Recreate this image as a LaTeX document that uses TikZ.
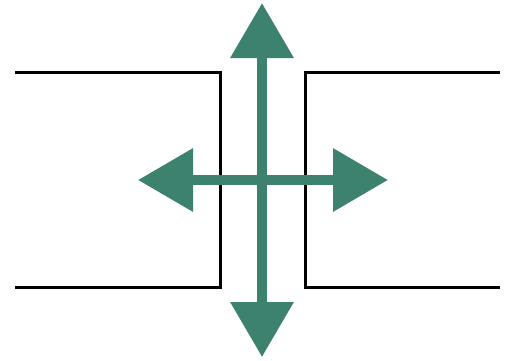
\documentclass[tikz,border=0pt]{standalone}
\usetikzlibrary{arrows.meta}
\definecolor{arrowgreen}{RGB}{61,129,111}
\begin{document}
\begin{tikzpicture}[x=1pt,y=-1pt,
  wall/.style={line width=3pt,black,line join=miter},
  bigarrow/.style={line width=10pt,arrowgreen,{Triangle[length=55pt,width=61pt]}-{Triangle[length=55pt,width=61pt]}}]
\useasboundingbox (0,0) rectangle (507,360);
\coordinate (L1) at (15,72);
\coordinate (L2) at (220,72);
\coordinate (L3) at (220,287);
\coordinate (L4) at (15,287);
\coordinate (R1) at (500,72);
\coordinate (R2) at (305,72);
\coordinate (R3) at (305,287);
\coordinate (R4) at (500,287);
\coordinate (top) at (262,3);
\coordinate (bot) at (262,357);
\coordinate (lft) at (138,180);
\coordinate (rgt) at (388,180);
\draw[wall] (L1) -- (L2) -- (L3) -- (L4);
\draw[wall] (R1) -- (R2) -- (R3) -- (R4);
\draw[bigarrow] (top) -- (bot);
\draw[bigarrow] (lft) -- (rgt);
\end{tikzpicture}
\end{document}
